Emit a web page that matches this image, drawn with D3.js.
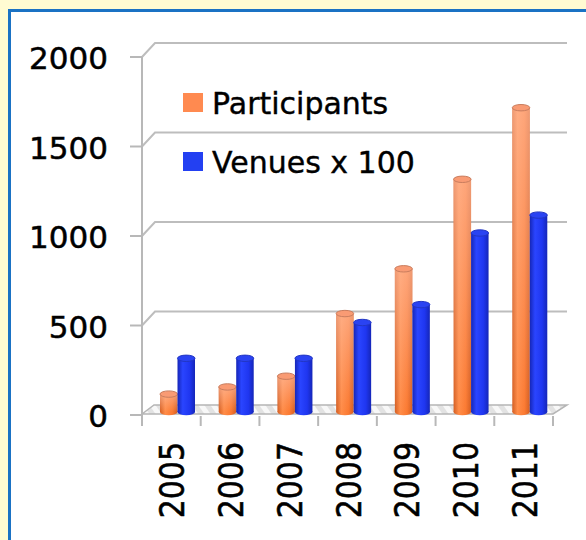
<!DOCTYPE html>
<html>
<head>
<meta charset="utf-8">
<style>
  body { margin: 0; background: #fffbd2; }
  svg { display: block; }
</style>
</head>
<body>
<svg width="586" height="540" font-family="DejaVu Sans, Verdana, sans-serif"></svg>
<script src="https://d3js.org/d3.v7.min.js"></script>
<script>
// chart values
var years = ["2005", "2006", "2007", "2008", "2009", "2010", "2011"];
var participants = [100, 140, 200, 550, 800, 1300, 1700];
var venues = [300, 300, 300, 500, 600, 1000, 1100];
var yTicks = [0, 500, 1000, 1500, 2000];
var seriesNames = ["Participants", "Venues x 100"];

var svg = d3.select("svg"),
    width = +svg.attr("width"),
    height = +svg.attr("height");

var depthX = 13, depthY = -14;   // back wall offset
var barDX = 6, barDY = -3;       // bars sit mid-depth

var x = d3.scaleBand().domain(years).range([142, 553]);
var y = d3.scaleLinear().domain([0, 2000]).range([415, 57]);

var defs = svg.append("defs");

function cylGrad(id, light, mid, dark) {
  var g = defs.append("linearGradient").attr("id", id)
      .attr("x1", "0").attr("x2", "1").attr("y1", "0").attr("y2", "0");
  g.append("stop").attr("offset", "0%").attr("stop-color", dark);
  g.append("stop").attr("offset", "30%").attr("stop-color", light);
  g.append("stop").attr("offset", "70%").attr("stop-color", mid);
  g.append("stop").attr("offset", "100%").attr("stop-color", dark);
}
cylGrad("orangeH", "#ff8c48", "#fb7a32", "#d45e22");
cylGrad("blueH", "#2a45ff", "#1f36f0", "#1526b8");

// vertical lightening for the orange bars (lighter at top)
var ov = defs.append("linearGradient").attr("id", "orangeV")
    .attr("x1", "0").attr("x2", "0").attr("y1", "0").attr("y2", "1");
ov.append("stop").attr("offset", "0%").attr("stop-color", "#ffc2aa").attr("stop-opacity", 0.6);
ov.append("stop").attr("offset", "100%").attr("stop-color", "#ffc2aa").attr("stop-opacity", 0);

var hatch = defs.append("pattern").attr("id", "hatch")
    .attr("width", 10).attr("height", 10)
    .attr("patternUnits", "userSpaceOnUse")
    .attr("patternTransform", "rotate(-35)");
hatch.append("rect").attr("width", 10).attr("height", 10).attr("fill", "#e2e2e2");
hatch.append("rect").attr("width", 5).attr("height", 10).attr("fill", "#f8f8f8");

// panel
svg.append("rect")
    .attr("x", 9.5).attr("y", 10.5)
    .attr("width", width + 20).attr("height", height + 20)
    .attr("fill", "#ffffff")
    .attr("stroke", "#1a72c4")
    .attr("stroke-width", 3);

// back wall grid lines with their diagonals
var grid = svg.append("g").attr("fill", "none").attr("stroke", "#bdbdbd").attr("stroke-width", 2);
yTicks.filter(function(d) { return d > 0; }).forEach(function(t) {
  grid.append("path")
      .attr("d", "M" + 142 + "," + y(t) + "L" + (142 + depthX) + "," + (y(t) + depthY) +
                 "H" + (x.range()[1] + depthX + 1));
});

// floor
var fx0 = x.range()[0], fx1 = x.range()[1], fy = y(0) - 1;
svg.append("path")
    .attr("d", "M" + fx0 + "," + fy + "L" + (fx0 + 12) + "," + (fy - 9) +
               "L" + (fx1 + 14) + "," + (fy - 9) + "L" + fx1 + "," + fy + "Z")
    .attr("fill", "url(#hatch)")
    .attr("stroke", "#b5b5b5")
    .attr("stroke-width", 1.5);

// axes
var axisG = svg.append("g").attr("stroke", "#b8b8b8").attr("stroke-width", 2);
axisG.append("line").attr("x1", 142).attr("x2", 142).attr("y1", y(2000)).attr("y2", 425);
yTicks.forEach(function(t) {
  axisG.append("line").attr("x1", 130).attr("x2", 142).attr("y1", y(t)).attr("y2", y(t));
});
x.domain().concat(["end"]).forEach(function(d, i) {
  var px = i < years.length ? x(d) : x.range()[1];
  axisG.append("line").attr("x1", px).attr("x2", px).attr("y1", 416).attr("y2", 426);
});

svg.append("g").selectAll("text")
  .data(yTicks)
  .join("text")
    .attr("x", 108)
    .attr("y", function(d) { return y(d) + 12; })
    .attr("text-anchor", "end")
    .attr("font-size", 31)
    .attr("fill", "#000").attr("stroke", "#000").attr("stroke-width", 0.5)
    .text(function(d) { return d; });

svg.append("g").selectAll("text")
  .data(years)
  .join("text")
    .attr("transform", function(d) {
      return "translate(" + (x(d) + x.bandwidth() / 2 + 13) + ",442) scale(1.12,1) rotate(-90)";
    })
    .attr("text-anchor", "end")
    .attr("font-size", 30)
    .attr("fill", "#000").attr("stroke", "#000").attr("stroke-width", 0.5)
    .text(function(d) { return d; });

// cylinders
var barW = 17.5, ry = 3.2;
function drawBars(values, cls, fillH, topFill, overlay) {
  var g = svg.append("g").attr("class", cls);
  var bars = g.selectAll("g").data(values).join("g")
      .attr("transform", function(d, i) {
        var off = cls === "part" ? 0 : barW;
        return "translate(" + (x(years[i]) + 12 + barDX + off) + ",0)";
      });
  var base = y(0) + barDY;
  bars.append("ellipse")
      .attr("cx", barW / 2).attr("cy", base)
      .attr("rx", barW / 2).attr("ry", ry)
      .attr("fill", fillH);
  bars.append("rect")
      .attr("x", 0).attr("width", barW)
      .attr("y", function(d) { return y(d) + barDY; })
      .attr("height", function(d) { return base - (y(d) + barDY); })
      .attr("fill", fillH);
  if (overlay) {
    bars.append("rect")
        .attr("x", 0).attr("width", barW)
        .attr("y", function(d) { return y(d) + barDY; })
        .attr("height", function(d) { return base - (y(d) + barDY); })
        .attr("fill", overlay);
  }
  bars.append("ellipse")
      .attr("cx", barW / 2).attr("cy", function(d) { return y(d) + barDY; })
      .attr("rx", barW / 2).attr("ry", ry)
      .attr("fill", topFill)
      .attr("stroke", d3.color(topFill).darker(0.6))
      .attr("stroke-width", 1);
}
drawBars(participants, "part", "url(#orangeH)", "#f99b74", "url(#orangeV)");
drawBars(venues, "ven", "url(#blueH)", "#2a43f2", null);

// legend
var legend = svg.append("g");
var legColors = ["#ff8a50", "#2340f2"];
seriesNames.forEach(function(name, i) {
  var ly = 93 + i * 59;
  legend.append("rect")
      .attr("x", 183).attr("y", ly)
      .attr("width", 20).attr("height", 19)
      .attr("fill", legColors[i]);
  legend.append("text")
      .attr("x", 212).attr("y", ly + 21)
      .attr("font-size", 30)
      .attr("fill", "#000").attr("stroke", "#000").attr("stroke-width", 0.4)
      .text(name);
});
</script>
</body>
</html>
